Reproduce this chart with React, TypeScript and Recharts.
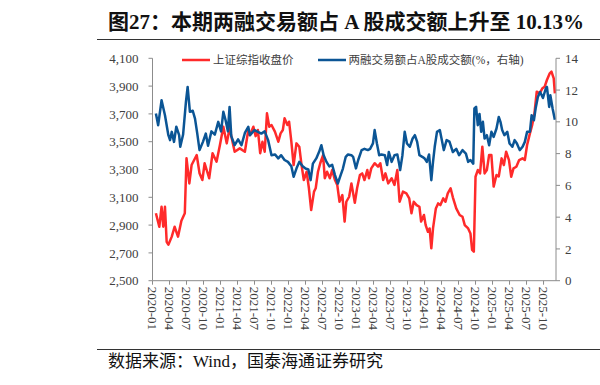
import React from 'react';
import { LineChart, Line, XAxis, YAxis, Legend } from 'recharts';

const titleText = '图27：本期两融交易额占 A 股成交额上升至 10.13%';
const sourceText = '数据来源：Wind，国泰海通证券研究';
const seriesNames = ['上证综指收盘价', '两融交易额占A股成交额(%，右轴)'];

// month index: 0 = 2020-01
const xTickMonths = [0, 3, 6, 9, 12, 15, 18, 21, 24, 27, 30, 33, 36, 39, 42, 45, 48, 51, 54, 57, 60, 63, 66, 69];
const xTickLabels = [
  '2020-01', '2020-04', '2020-07', '2020-10',
  '2021-01', '2021-04', '2021-07', '2021-10',
  '2022-01', '2022-04', '2022-07', '2022-10',
  '2023-01', '2023-04', '2023-07', '2023-10',
  '2024-01', '2024-04', '2024-07', '2024-10',
  '2025-01', '2025-04', '2025-07', '2025-10',
];
const leftTicks = [2500, 2700, 2900, 3100, 3300, 3500, 3700, 3900, 4100];
const rightTicks = [0, 2, 4, 6, 8, 10, 12, 14];

const sseMonths = [
  0.6, 1.2, 1.6, 1.9, 2.2, 2.5, 2.8, 3.4, 3.9, 4.5, 5.1, 5.7, 6.0, 6.5, 6.9, 7.8, 8.3, 8.8, 9.2, 10.0,
  10.6, 11.3, 11.9, 12.5, 13.1, 13.6, 14.5, 15.4, 16.3, 16.9, 17.2, 17.8, 18.2, 18.6, 19.0, 19.4, 19.8, 20.2, 20.6, 21.0,
  21.6, 22.2, 22.6, 23.0, 23.3, 23.8, 24.1, 24.5, 24.9, 25.4, 25.9, 26.3, 26.7, 27.2, 27.6, 28.0, 28.5, 28.8, 29.2, 29.6,
  30.1, 30.4, 30.8, 31.3, 31.7, 32.2, 32.6, 33.0, 33.5, 33.9, 34.2, 34.7, 35.1, 35.7, 36.1, 36.6, 37.0, 37.4, 37.9, 38.2,
  38.6, 39.2, 39.8, 40.2, 40.7, 41.1, 41.6, 42.2, 42.7, 43.2, 43.6, 44.2, 44.8, 45.3, 45.7, 46.1, 46.6, 47.1, 47.4, 47.9,
  48.2, 48.6, 48.9, 49.2, 49.5, 50.0, 50.4, 50.8, 51.3, 51.7, 52.1, 52.6, 53.0, 53.6, 54.2, 54.7, 55.1, 55.7, 56.1, 56.4,
  56.7, 57.0, 57.4, 57.8, 58.2, 58.6, 59.0, 59.4, 59.8, 60.2, 60.7, 61.1, 61.6, 62.0, 62.4, 62.9, 63.3, 63.7, 64.2, 64.7,
  65.3, 65.7, 66.1, 66.6, 67.0, 67.4, 67.8, 68.3, 68.8, 69.2, 69.6, 70.1, 70.4, 70.8, 71.0,
];
const sseClose = [
  2985, 2888, 3032, 2888, 3032, 2780, 2759, 2817, 2888, 2817, 2932, 2985, 3381, 3200, 3332, 3404, 3273, 3224, 3345, 3237,
  3417, 3356, 3476, 3608, 3488, 3596, 3428, 3452, 3428, 3584, 3548, 3608, 3540, 3584, 3417, 3500, 3428, 3704, 3608, 3620,
  3572, 3500, 3560, 3584, 3668, 3620, 3644, 3500, 3332, 3488, 3464, 3332, 3224, 3284, 3165, 3008, 3141, 3165, 3284, 3345,
  3404, 3237, 3284, 3237, 3296, 3224, 3189, 3068, 3116, 2925, 3068, 3104, 3200, 3060, 3165, 3260, 3272, 3224, 3296, 3237,
  3308, 3345, 3320, 3345, 3224, 3272, 3200, 3237, 3189, 3296, 3068, 3141, 3128, 3092, 2985, 3068, 3044, 3032, 2925, 2973,
  2900, 2852, 2876, 2733, 2876, 3020, 3056, 3044, 3092, 3068, 3128, 3165, 3100, 3020, 2973, 2960, 2900, 2876, 2840, 2721,
  2709, 3248, 3296, 3272, 3464, 3272, 3296, 3404, 3404, 3177, 3260, 3250, 3380, 3332, 3428, 3368, 3248, 3308, 3320, 3368,
  3380, 3368, 3476, 3560, 3620, 3704, 3860, 3848, 3884, 3896, 3944, 3992, 4004, 3956, 3848,
];

const ratioMonths = [
  0.6, 1.0, 1.6, 2.2, 2.8, 3.1, 3.4, 3.8, 4.2, 4.7, 4.9, 5.4, 5.9, 6.2, 6.6, 7.1, 7.5, 7.9, 8.3, 8.9,
  9.4, 9.8, 10.4, 11.0, 11.6, 12.1, 12.5, 12.9, 13.3, 13.6, 13.9, 14.5, 15.1, 15.7, 16.3, 16.9, 17.2, 18.0, 18.6, 19.2,
  19.8, 20.4, 21.0, 21.6, 22.2, 22.7, 23.3, 23.9, 24.5, 24.9, 25.4, 25.9, 26.5, 27.0, 27.5, 27.9, 28.3, 28.9, 29.4, 29.8,
  30.2, 30.7, 31.2, 31.7, 32.2, 32.7, 33.2, 33.6, 34.1, 34.5, 35.1, 35.4, 35.9, 36.3, 36.9, 37.4, 38.0, 38.4, 38.9, 39.2,
  39.6, 40.0, 40.4, 41.0, 41.4, 41.7, 42.2, 42.7, 43.2, 43.5, 43.7, 44.1, 44.5, 44.9, 45.4, 45.9, 46.3, 46.7, 47.1, 47.6,
  48.0, 48.4, 48.8, 49.2, 49.5, 49.8, 50.2, 50.7, 51.0, 51.4, 51.9, 52.4, 53.0, 53.6, 54.1, 54.7, 55.3, 55.7, 56.1, 56.6,
  56.8, 57.1, 57.4, 57.7, 58.0, 58.3, 58.6, 59.0, 59.4, 59.8, 60.2, 60.7, 61.1, 61.4, 61.7, 62.1, 62.6, 63.0, 63.5, 63.9,
  64.3, 64.8, 65.3, 65.7, 66.1, 66.6, 66.9, 67.3, 67.6, 68.0, 68.4, 68.9, 69.4, 69.6, 70.0, 70.2, 70.6, 71.0,
];
const ratioPct = [
  10.53, 9.79, 11.36, 10.42, 9.16, 8.85, 9.37, 8.74, 9.69, 9.16, 8.43, 9.2, 11.26, 12.2, 10.63, 10.7, 10.2, 9.26, 8.22, 8.74,
  9.26, 8.5, 9.4, 9.2, 10.0, 9.4, 10.63, 10.1, 9.4, 10.94, 9.1, 8.53, 8.9, 8.53, 9.3, 9.69, 9.16, 9.48, 9.37, 9.26,
  9.4, 8.85, 7.9, 7.95, 7.7, 7.9, 7.6, 7.48, 7.2, 6.54, 7.06, 7.48, 7.2, 7.06, 7.0, 6.33, 7.37, 7.7, 8.11, 8.53,
  7.9, 7.48, 7.2, 7.3, 6.65, 6.12, 6.65, 7.06, 7.8, 7.95, 7.9, 7.8, 7.07, 7.6, 8.22, 8.3, 8.22, 8.3, 8.64, 9.48,
  8.64, 7.9, 7.95, 7.9, 7.28, 8.1, 7.48, 7.9, 7.95, 7.4, 6.96, 7.9, 9.37, 8.64, 8.43, 8.95, 9.16, 8.74, 7.9, 7.8,
  7.7, 7.48, 7.95, 6.33, 7.48, 8.43, 9.37, 9.48, 8.95, 8.22, 8.85, 8.75, 8.1, 8.3, 7.9, 8.22, 8.0, 7.48, 7.6, 7.37,
  10.84, 10.94, 9.79, 10.5, 9.37, 10.0, 8.95, 9.16, 8.53, 9.37, 9.05, 9.58, 10.31, 10.0, 9.48, 9.16, 9.37, 8.64, 8.43, 8.85,
  8.64, 8.22, 8.43, 8.74, 9.37, 9.37, 10.42, 10.1, 10.84, 11.57, 11.88, 11.5, 12.1, 12.2, 10.94, 11.67, 10.84, 10.13,
];

const sseData = sseMonths.map((m, i) => ({ m, v: sseClose[i] }));
const ratioData = ratioMonths.map((m, i) => ({ m, v: ratioPct[i] }));

const RED = '#FF2A2A';
const BLUE = '#0B5595';
const AXIS = '#8C8C8C';
const TXT = '#404040';
const SERIF = "'Liberation Serif', 'Noto Sans CJK SC', serif";

const XTick = (props: any) => {
  const { x, y, payload } = props;
  const idx = xTickMonths.indexOf(payload.value);
  return (
    <text
      x={x}
      y={y}
      transform={`rotate(90 ${x} ${y})`}
      textAnchor="start"
      dominantBaseline="central"
      fontSize={13}
      fontFamily={SERIF}
      fill={TXT}
    >
      {idx >= 0 ? xTickLabels[idx] : ''}
    </text>
  );
};

const renderLegend = (props: any) => {
  const items = props.payload || [];
  return (
    <div style={{ display: 'flex', alignItems: 'center', whiteSpace: 'nowrap' }}>
      {items.map((it: any, i: number) => (
        <div key={i} style={{ display: 'flex', alignItems: 'center', marginRight: 24 }}>
          <svg width={28} height={10} style={{ display: 'block' }}>
            <line x1={0} y1={5} x2={28} y2={5} stroke={it.color} strokeWidth={2.5} />
          </svg>
          <span
            style={{
              marginLeft: 3,
              fontSize: 11.5,
              fontFamily: SERIF,
              color: TXT,
              lineHeight: '14px',
            }}
          >
            {it.value}
          </span>
        </div>
      ))}
    </div>
  );
};

export default function App() {
  return (
    <div
      style={{
        position: 'absolute',
        left: 0,
        top: 0,
        width: 600,
        height: 385,
        background: '#fff',
        overflow: 'hidden',
      }}
    >
      <div
        style={{
          position: 'absolute',
          left: 108,
          top: 9,
          fontSize: 21,
          fontWeight: 'bold',
          fontFamily: SERIF,
          color: '#111',
          whiteSpace: 'nowrap',
          lineHeight: '27px',
        }}
      >
        {titleText}
      </div>
      <div style={{ position: 'absolute', left: 97, top: 38.5, width: 503, height: 1.5, background: '#333' }} />
      <div style={{ position: 'absolute', left: 0, top: 0 }}>
        <LineChart
          width={600}
          height={385}
          margin={{ top: 58.3, right: 4, bottom: 54.3, left: 92.5 }}
        >
          <XAxis
            dataKey="m"
            type="number"
            domain={[0, 71.2]}
            ticks={xTickMonths}
            interval={0}
            allowDataOverflow
            height={50}
            stroke={AXIS}
            tickSize={4}
            tickMargin={2}
            tick={<XTick />}
          />
          <YAxis
            yAxisId="left"
            orientation="left"
            domain={[2500, 4100]}
            ticks={leftTicks}
            interval={0}
            width={60}
            stroke={AXIS}
            tickSize={4}
            tickMargin={10}
            tickFormatter={(v: number) => v.toLocaleString('en-US')}
            tick={{ fontSize: 13, fontFamily: SERIF, fill: TXT }}
          />
          <YAxis
            yAxisId="right"
            orientation="right"
            domain={[0, 14]}
            ticks={rightTicks}
            interval={0}
            width={40}
            stroke={AXIS}
            tickSize={4}
            tickMargin={5}
            tick={{ fontSize: 13, fontFamily: SERIF, fill: TXT }}
          />
          <Legend
            layout="horizontal"
            verticalAlign="middle"
            align="center"
            content={renderLegend}
            wrapperStyle={{ top: 53, left: 182, width: 400, height: 16 }}
          />
          <Line
            yAxisId="left"
            data={sseData}
            dataKey="v"
            name={seriesNames[0]}
            stroke={RED}
            strokeWidth={2.5}
            dot={false}
            isAnimationActive={false}
            strokeLinejoin="round"
          />
          <Line
            yAxisId="right"
            data={ratioData}
            dataKey="v"
            name={seriesNames[1]}
            stroke={BLUE}
            strokeWidth={2.5}
            dot={false}
            isAnimationActive={false}
            strokeLinejoin="round"
          />
        </LineChart>
      </div>
      <div style={{ position: 'absolute', left: 97, top: 348.5, width: 503, height: 1.5, background: '#333' }} />
      <div
        style={{
          position: 'absolute',
          left: 108,
          top: 351,
          fontSize: 17,
          fontFamily: SERIF,
          color: '#111',
          whiteSpace: 'nowrap',
          lineHeight: '22px',
        }}
      >
        {sourceText}
      </div>
    </div>
  );
}
